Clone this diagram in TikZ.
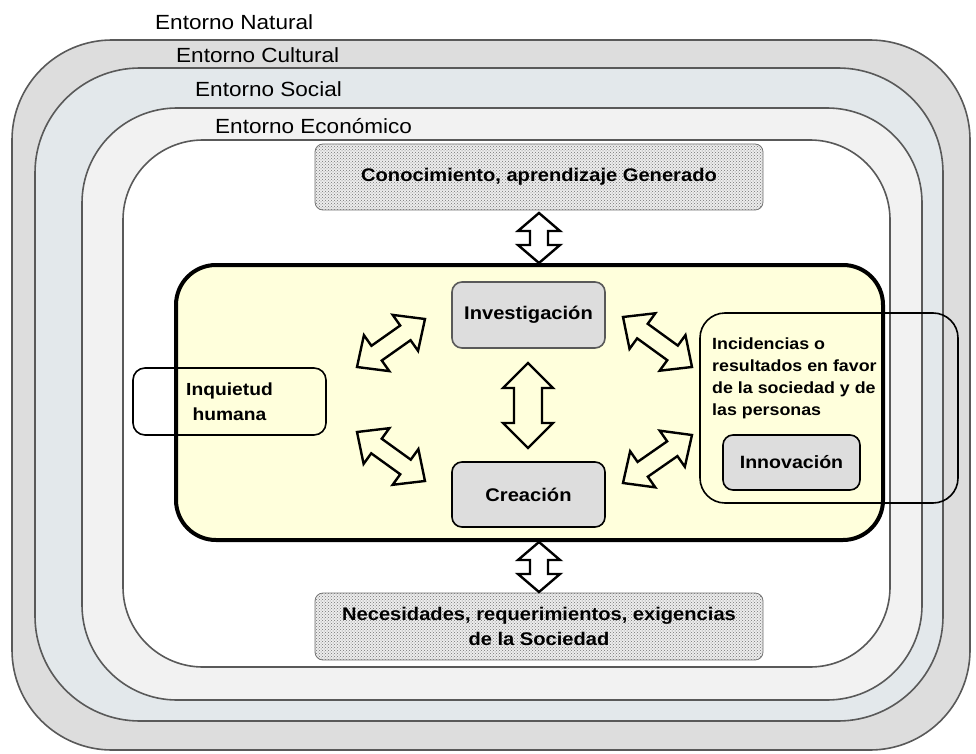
\documentclass[tikz,border=0pt]{standalone}
\usepackage{fontspec}
\setmainfont{Liberation Sans}[FakeStretch=1.1]
\usetikzlibrary{calc,patterns}

\definecolor{natband}{HTML}{DDDDDD}
\definecolor{culband}{HTML}{E3E8EB}
\definecolor{socband}{HTML}{F2F2F2}
\definecolor{ringline}{HTML}{595959}
\definecolor{coreyellow}{HTML}{FFFFDC}
\definecolor{boxgrey}{HTML}{DDDDDD}

% double-headed block arrow between two named points
% #1 options, #2 start, #3 end, #4 head length, #5 head half width, #6 shaft half width
\newcommand{\blockarrow}[6][]{%
  \path[arrowbody,#1] let \p1=($(#3)-(#2)$), \n1={atan2(\y1,\x1)}, \n2={veclen(\x1,\y1)} in
    [shift={(#2)}, rotate=\n1]
    (0pt,0pt) -- (#4,#5) -- (#4,#6) -- (\n2-#4,#6) -- (\n2-#4,#5) -- (\n2,0pt)
    -- (\n2-#4,-#5) -- (\n2-#4,-#6) -- (#4,-#6) -- (#4,-#5) -- cycle;}

\begin{document}
\begin{tikzpicture}[x=1pt,y=-1pt,
  ring/.style={draw=ringline,line width=1.6pt},
  ringlabel/.style={anchor=base west,inner sep=0pt,font=\fontsize{20.5}{24}\selectfont},
  core/.style={draw=black,line width=4pt,fill=coreyellow,rounded corners=40pt},
  infobox/.style={draw=black!55,line width=0.8pt,rounded corners=8pt,fill=black!7,
    postaction={pattern=crosshatch dots,pattern color=black!55},
    font=\bfseries\fontsize{18.3}{25}\selectfont,align=center},
  actbox/.style={draw=black,line width=1.6pt,fill=boxgrey,rounded corners=10pt,
    font=\bfseries\fontsize{18.3}{24}\selectfont,align=center},
  outlinebox/.style={draw=black,line width=1.6pt,rounded corners=12pt},
  arrowbody/.style={draw=black,line width=2.4pt,line join=miter,fill=white},
]
\useasboundingbox (0,0) rectangle (976,754);

% nested environment rings
\draw[ring,fill=natband,rounded corners=100pt] (12,40) rectangle (970,750);
\draw[ring,fill=culband,rounded corners=105pt] (35,68) rectangle (943,721);
\draw[ring,fill=socband,rounded corners=95pt] (82,108) rectangle (922,700);
\draw[ring,fill=white,rounded corners=80pt] (123,140) rectangle (890,667);

\node[ringlabel] (lnat) at (155,30) {Entorno Natural};
\node[ringlabel] (lcul) at (176,63) {Entorno Cultural};
\node[ringlabel] (lsoc) at (195,97) {Entorno Social};
\node[ringlabel] (leco) at (215,134) {Entorno Económico};

% knowledge and society boxes
\node[infobox,minimum width=448pt,minimum height=66pt] (conoc) at (539,177)
  {Conocimiento, aprendizaje Generado};
\node[infobox,minimum width=448pt,minimum height=67pt] (neces) at (539,626.5)
  {Necesidades, requerimientos, exigencias\\de la Sociedad};

% central process area
\node[core,minimum width=707pt,minimum height=275pt] (core) at (529.5,402.5) {};

\node[actbox,draw=black!65,minimum width=153pt,minimum height=66pt] (inv) at (528.5,315) {Investigación};
\node[actbox,minimum width=153pt,minimum height=65pt] (crea) at (528.5,494.5) {Creación};

\node[outlinebox,minimum width=193pt,minimum height=67pt,
  font=\bfseries\fontsize{17.5}{25}\selectfont,align=center] (inq) at (229.5,401.5)
  {Inquietud\\humana};

\node[outlinebox,rounded corners=25pt,minimum width=258pt,minimum height=190pt] (inc) at (829,408) {};
\node[anchor=north west,inner sep=0pt,align=left,
  font=\bfseries\fontsize{16.2}{22}\selectfont] (inctext) at (712,338)
  {Incidencias o\\resultados en favor\\de la sociedad y de\\las personas};
\node[actbox,minimum width=137pt,minimum height=55pt,font=\bfseries\fontsize{17.8}{22}\selectfont] (innov) at (791.5,462.5) {Innovación};

% arrow end points
\coordinate (tA) at (539,213);  \coordinate (tB) at (539,263);
\coordinate (bA) at (539,542);  \coordinate (bB) at (539,592);
\coordinate (mA) at (528,363);  \coordinate (mB) at (528,448);
\coordinate (ulA) at (357,367); \coordinate (ulB) at (425,319);
\coordinate (llA) at (357,432); \coordinate (llB) at (425,481);
\coordinate (urA) at (623,317); \coordinate (urB) at (692,367);
\coordinate (lrA) at (623,483); \coordinate (lrB) at (692,435);

\blockarrow{tA}{tB}{18pt}{21pt}{9pt}
\blockarrow{bA}{bB}{18pt}{21pt}{9pt}
\blockarrow[fill=coreyellow]{mA}{mB}{25pt}{25pt}{14pt}
\blockarrow[fill=coreyellow]{ulA}{ulB}{24pt}{22pt}{9pt}
\blockarrow[fill=coreyellow]{llA}{llB}{24pt}{22pt}{9pt}
\blockarrow[fill=coreyellow]{urA}{urB}{24pt}{22pt}{9pt}
\blockarrow[fill=coreyellow]{lrA}{lrB}{24pt}{22pt}{9pt}
\end{tikzpicture}
\end{document}
